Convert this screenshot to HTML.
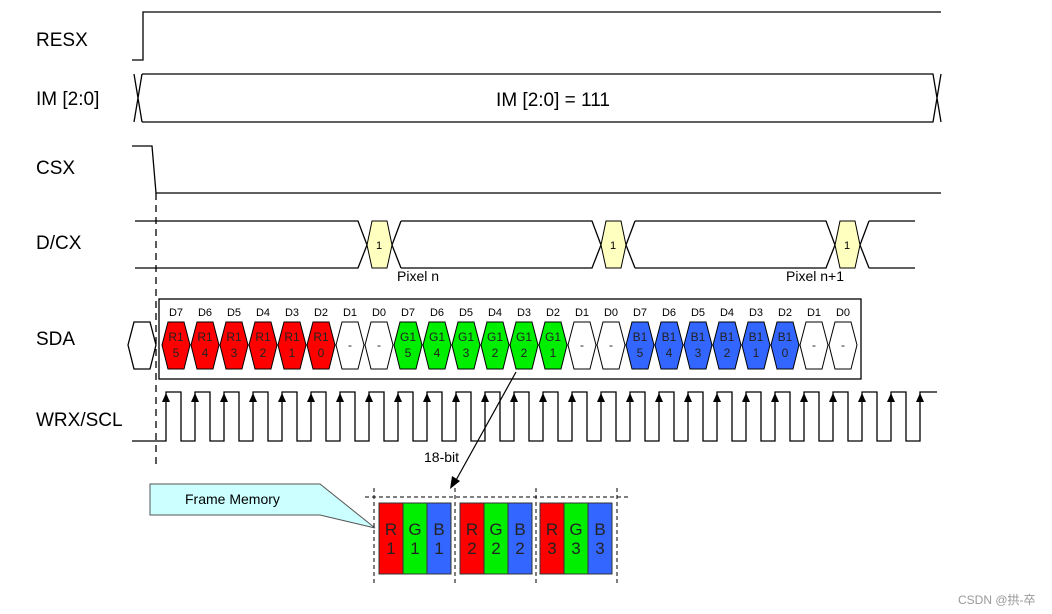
<!DOCTYPE html>
<html><head><meta charset="utf-8"><style>
body{margin:0;background:#fff;width:1052px;height:614px;overflow:hidden}
svg{display:block}
text{font-family:"Liberation Sans",Arial,sans-serif}
</style></head><body>
<svg width="1052" height="614" viewBox="0 0 1052 614" xmlns="http://www.w3.org/2000/svg">
<defs><polygon id="ar" points="-4,402 4,402 0,393" fill="#000"/></defs>
<g font-size="19" fill="#000">
<text x="36" y="46">RESX</text>
<text x="36" y="105">IM [2:0]</text>
<text x="36" y="174">CSX</text>
<text x="36" y="249">D/CX</text>
<text x="36" y="345">SDA</text>
<text x="36" y="426">WRX/SCL</text>
</g>
<g fill="none" stroke="#000" stroke-width="1.3">
<path d="M132 60 H143 V12 H941"/>
<path d="M134 74 L142 122 M134 122 L142 74 M142 74 H933 L941 122 M142 122 H933 L941 74"/>
<path d="M132 146 H152 L156 193 H941"/>
<path d="M135 221 H358 L367 245 L358 268 H135"/>
<path d="M401 221 L392 245 L401 268 M401 221 H592 L601 245 L592 268 H401"/>
<path d="M635 221 L626 245 L635 268 M635 221 H826 L835 245 L826 268 H635"/>
<path d="M869 221 L860 245 L869 268 M869 221 H915 M869 268 H915"/>
<path d="M132 441 H166 v-49h15v49h14 v-49h15v49h14 v-49h15v49h14 v-49h15v49h14 v-49h15v49h14 v-49h15v49h14 v-49h15v49h14 v-49h15v49h14 v-49h15v49h14 v-49h15v49h14 v-49h15v49h14 v-49h15v49h14 v-49h15v49h14 v-49h15v49h14 v-49h15v49h14 v-49h15v49h14 v-49h15v49h14 v-49h15v49h14 v-49h15v49h14 v-49h15v49h14 v-49h15v49h14 v-49h15v49h14 v-49h15v49h14 v-49h15v49h14 v-49h15v49h14 v-49h15v49h14 v-49 H937"/>
<rect x="159" y="299" width="702" height="80"/>
<polygon points="128,345 134,322 150,322 156,345 150,369 134,369"/>
<path d="M156 193 V468" stroke-dasharray="7,5"/>
</g>
<g fill="#ffffc0" stroke="#000" stroke-width="1">
<polygon points="367,245 372,221 387,221 392,245 387,268 372,268"/>
<polygon points="601,245 606,221 621,221 626,245 621,268 606,268"/>
<polygon points="835,245 840,221 855,221 860,245 855,268 840,268"/>
</g>
<g font-size="11" text-anchor="middle"><text x="379" y="249">1</text><text x="613" y="249">1</text><text x="847" y="249">1</text></g>
<text x="397" y="281" font-size="14">Pixel n</text>
<text x="786" y="281" font-size="14">Pixel n+1</text>
<text x="553" y="106" font-size="19" text-anchor="middle">IM [2:0] = 111</text>
<g font-size="11" text-anchor="middle">
<text x="176" y="316">D7</text><text x="205" y="316">D6</text><text x="234" y="316">D5</text><text x="263" y="316">D4</text><text x="292" y="316">D3</text><text x="321" y="316">D2</text><text x="350" y="316">D1</text><text x="379" y="316">D0</text>
<text x="408" y="316">D7</text><text x="437" y="316">D6</text><text x="466" y="316">D5</text><text x="495" y="316">D4</text><text x="524" y="316">D3</text><text x="553" y="316">D2</text><text x="582" y="316">D1</text><text x="611" y="316">D0</text>
<text x="640" y="316">D7</text><text x="669" y="316">D6</text><text x="698" y="316">D5</text><text x="727" y="316">D4</text><text x="756" y="316">D3</text><text x="785" y="316">D2</text><text x="814" y="316">D1</text><text x="843" y="316">D0</text>
</g>
<g stroke="#000" stroke-width="1">
<g fill="#ff0000">
<polygon points="162,345 168,322 184,322 190,345 184,369 168,369"/>
<polygon points="191,345 197,322 213,322 219,345 213,369 197,369"/>
<polygon points="220,345 226,322 242,322 248,345 242,369 226,369"/>
<polygon points="249,345 255,322 271,322 277,345 271,369 255,369"/>
<polygon points="278,345 284,322 300,322 306,345 300,369 284,369"/>
<polygon points="307,345 313,322 329,322 335,345 329,369 313,369"/>
</g>
<g fill="#fff">
<polygon points="336,345 342,322 358,322 364,345 358,369 342,369"/>
<polygon points="365,345 371,322 387,322 393,345 387,369 371,369"/>
<polygon points="568,345 574,322 590,322 596,345 590,369 574,369"/>
<polygon points="597,345 603,322 619,322 625,345 619,369 603,369"/>
<polygon points="800,345 806,322 822,322 828,345 822,369 806,369"/>
<polygon points="829,345 835,322 851,322 857,345 851,369 835,369"/>
</g>
<g fill="#00ee00">
<polygon points="394,345 400,322 416,322 422,345 416,369 400,369"/>
<polygon points="423,345 429,322 445,322 451,345 445,369 429,369"/>
<polygon points="452,345 458,322 474,322 480,345 474,369 458,369"/>
<polygon points="481,345 487,322 503,322 509,345 503,369 487,369"/>
<polygon points="510,345 516,322 532,322 538,345 532,369 516,369"/>
<polygon points="539,345 545,322 561,322 567,345 561,369 545,369"/>
</g>
<g fill="#3366ff">
<polygon points="626,345 632,322 648,322 654,345 648,369 632,369"/>
<polygon points="655,345 661,322 677,322 683,345 677,369 661,369"/>
<polygon points="684,345 690,322 706,322 712,345 706,369 690,369"/>
<polygon points="713,345 719,322 735,322 741,345 735,369 719,369"/>
<polygon points="742,345 748,322 764,322 770,345 764,369 748,369"/>
<polygon points="771,345 777,322 793,322 799,345 793,369 777,369"/>
</g>
</g>
<g font-size="12" text-anchor="middle" fill="#222">
<text x="176" y="341">R1</text><text x="176" y="357">5</text>
<text x="205" y="341">R1</text><text x="205" y="357">4</text>
<text x="234" y="341">R1</text><text x="234" y="357">3</text>
<text x="263" y="341">R1</text><text x="263" y="357">2</text>
<text x="292" y="341">R1</text><text x="292" y="357">1</text>
<text x="321" y="341">R1</text><text x="321" y="357">0</text>
<text x="350" y="349">-</text><text x="379" y="349">-</text>
<text x="408" y="341">G1</text><text x="408" y="357">5</text>
<text x="437" y="341">G1</text><text x="437" y="357">4</text>
<text x="466" y="341">G1</text><text x="466" y="357">3</text>
<text x="495" y="341">G1</text><text x="495" y="357">2</text>
<text x="524" y="341">G1</text><text x="524" y="357">2</text>
<text x="553" y="341">G1</text><text x="553" y="357">1</text>
<text x="582" y="349">-</text><text x="611" y="349">-</text>
<text x="640" y="341">B1</text><text x="640" y="357">5</text>
<text x="669" y="341">B1</text><text x="669" y="357">4</text>
<text x="698" y="341">B1</text><text x="698" y="357">3</text>
<text x="727" y="341">B1</text><text x="727" y="357">2</text>
<text x="756" y="341">B1</text><text x="756" y="357">1</text>
<text x="785" y="341">B1</text><text x="785" y="357">0</text>
<text x="814" y="349">-</text><text x="843" y="349">-</text>
</g>
<g>
<use href="#ar" x="166"/><use href="#ar" x="195"/><use href="#ar" x="224"/><use href="#ar" x="253"/><use href="#ar" x="282"/><use href="#ar" x="311"/><use href="#ar" x="340"/><use href="#ar" x="369"/><use href="#ar" x="398"/><use href="#ar" x="427"/><use href="#ar" x="456"/><use href="#ar" x="485"/><use href="#ar" x="514"/><use href="#ar" x="543"/><use href="#ar" x="572"/><use href="#ar" x="601"/><use href="#ar" x="630"/><use href="#ar" x="659"/><use href="#ar" x="688"/><use href="#ar" x="717"/><use href="#ar" x="746"/><use href="#ar" x="775"/><use href="#ar" x="804"/><use href="#ar" x="833"/><use href="#ar" x="862"/><use href="#ar" x="891"/><use href="#ar" x="920"/>
</g>
<line x1="516" y1="372" x2="455" y2="482" stroke="#000" stroke-width="1.2"/>
<polygon points="450,489 452,476 460,481" fill="#000"/>
<text x="424" y="462" font-size="14">18-bit</text>
<polygon points="150,484 320,484 375,528 320,515 150,515" fill="#ccffff" stroke="#555" stroke-width="1"/>
<text x="185" y="504" font-size="14">Frame Memory</text>
<g stroke="#333" stroke-width="1">
<rect x="379" y="503" width="24" height="71" fill="#ff0000"/><rect x="403" y="503" width="24" height="71" fill="#00ee00"/><rect x="427" y="503" width="24" height="71" fill="#3366ff"/>
<rect x="460" y="503" width="24" height="71" fill="#ff0000"/><rect x="484" y="503" width="24" height="71" fill="#00ee00"/><rect x="508" y="503" width="24" height="71" fill="#3366ff"/>
<rect x="540" y="503" width="24" height="71" fill="#ff0000"/><rect x="564" y="503" width="24" height="71" fill="#00ee00"/><rect x="588" y="503" width="24" height="71" fill="#3366ff"/>
</g>
<g stroke="#000" stroke-width="1" stroke-dasharray="4,3" fill="none">
<path d="M365 497 H628 M374 488 V585 M455 488 V585 M536 488 V585 M617 488 V585"/>
</g>
<g font-size="17" text-anchor="middle" fill="#222">
<text x="391" y="535">R</text><text x="391" y="554">1</text><text x="415" y="535">G</text><text x="415" y="554">1</text><text x="439" y="535">B</text><text x="439" y="554">1</text>
<text x="472" y="535">R</text><text x="472" y="554">2</text><text x="496" y="535">G</text><text x="496" y="554">2</text><text x="520" y="535">B</text><text x="520" y="554">2</text>
<text x="552" y="535">R</text><text x="552" y="554">3</text><text x="576" y="535">G</text><text x="576" y="554">3</text><text x="600" y="535">B</text><text x="600" y="554">3</text>
</g>
<text x="958" y="604" font-size="12" fill="#999" font-family="Liberation Sans, Noto Sans CJK SC, sans-serif">CSDN @拱-卒</text>
</svg>
</body></html>
